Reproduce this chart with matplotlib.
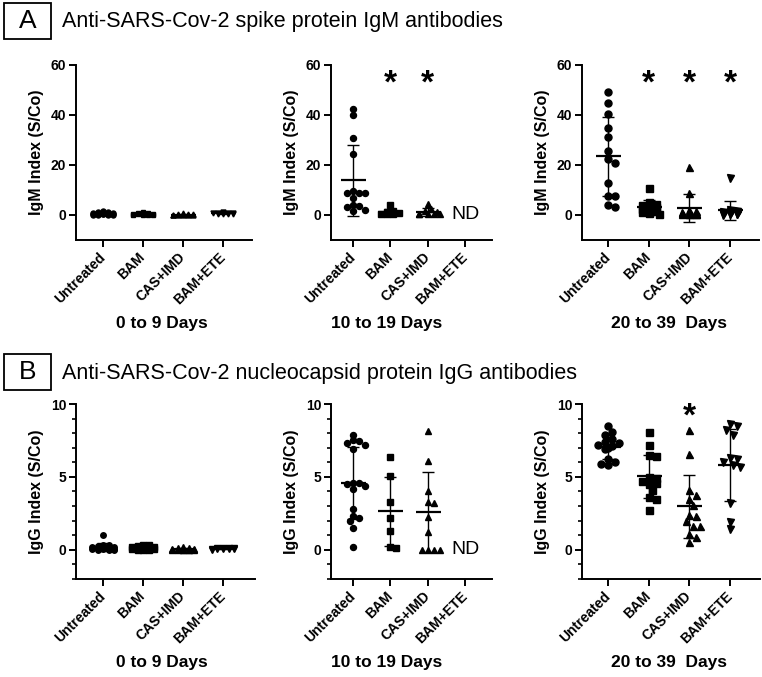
import numpy as np
import matplotlib
matplotlib.use('Agg')
import matplotlib.pyplot as plt
from matplotlib.patches import Rectangle
from matplotlib.ticker import MultipleLocator

plt.rcParams['font.family'] = ['Liberation Sans', 'DejaVu Sans']

groups = ['Untreated', 'BAM', 'CAS+IMD', 'BAM+ETE']
markers = ['o', 's', '^', 'v']

# IgM index (S/Co), spike protein, one list per group
igm_0_9 = [
    [1.5, 1.2, 1.0, 0.8, 0.7, 0.5, 0.4, 0.3, 0.3, 0.2, 0.2, 0.1, 0.1, 0.05, 0.0],
    [1.0, 0.8, 0.6, 0.5, 0.4, 0.3, 0.2, 0.2, 0.1, 0.1, 0.05, 0.0],
    [0.6, 0.4, 0.3, 0.2, 0.1, 0.1, 0.05, 0.0, 0.0, 0.0],
    [1.0, 0.9, 0.8, 0.7, 0.6, 0.5, 0.5, 0.4, 0.3],
]
igm_10_19 = [
    [42.3, 40.0, 30.7, 24.3, 9.5, 8.7, 8.7, 8.7, 6.7, 4.0, 3.7, 3.3, 2.0, 1.5],
    [3.8, 1.6, 1.0, 0.6, 0.4, 0.3, 0.2],
    [4.5, 2.5, 1.5, 1.0, 0.5, 0.3, 0.3, 0.2, 0.2],
    [],
]
igm_20_39 = [
    [49.1, 44.9, 40.4, 34.7, 31.3, 25.7, 22.3, 20.7, 12.9, 7.6, 7.5, 4.0, 3.3],
    [10.7, 5.0, 4.5, 4.0, 3.5, 3.0, 2.5, 2.0, 1.5, 1.2, 1.0, 0.8, 0.5],
    [19.3, 8.7, 2.0, 1.5, 1.2, 1.0, 0.8, 0.6, 0.5, 0.4, 0.3, 0.2, 0.2],
    [14.7, 2.0, 1.5, 1.2, 1.0, 0.8, 0.6, 0.5, 0.4, 0.3, 0.2, 0.2, 0.1],
]

# IgG index (S/Co), nucleocapsid protein
igg_0_9 = [
    [1.0, 0.35, 0.3, 0.25, 0.2, 0.2, 0.15, 0.1, 0.1, 0.05, 0.05, 0.05, 0.0, 0.0, 0.0],
    [0.35, 0.3, 0.25, 0.2, 0.2, 0.15, 0.1, 0.1, 0.05, 0.05, 0.0, 0.0, 0.0],
    [0.2, 0.15, 0.1, 0.05, 0.05, 0.0, 0.0, 0.0, 0.0, 0.0, 0.0, 0.0],
    [0.15, 0.12, 0.1, 0.1, 0.08, 0.05, 0.05, 0.05, 0.03, 0.02],
]
igg_10_19 = [
    [7.9, 7.5, 7.45, 7.3, 7.2, 6.9, 4.6, 4.6, 4.5, 4.35, 4.2, 2.8, 2.35, 2.2, 2.0, 1.5, 0.2],
    [6.35, 5.05, 3.27, 2.17, 1.26, 0.2, 0.15],
    [8.15, 6.1, 4.05, 3.25, 3.2, 2.25, 1.2, 0.0, 0.0, 0.0, 0.0],
    [],
]
igg_20_39 = [
    [8.5, 8.1, 7.9, 7.6, 7.4, 7.3, 7.2, 7.1, 7.0, 6.9, 6.2, 6.0, 5.9, 5.8],
    [8.05, 7.2, 6.5, 6.4, 5.0, 4.9, 4.75, 4.7, 4.6, 4.5, 4.1, 3.6, 3.5, 2.75],
    [8.2, 6.6, 4.1, 3.75, 3.5, 3.1, 2.4, 2.3, 1.95, 1.65, 1.6, 1.1, 0.9, 0.55],
    [8.6, 8.5, 8.2, 7.9, 6.3, 6.25, 6.0, 5.85, 5.7, 3.2, 1.9, 1.4],
]

period_labels = ['0 to 9 Days', '10 to 19 Days', '20 to 39  Days']
igm_stars = [[], [1, 2], [1, 2, 3]]
igg_stars = [[], [], [2]]

W, H = 762, 677
fig = plt.figure(figsize=(W / 100, H / 100), dpi=100)


def swarm(vals, d, ppx, ppy, maxw):
    # simple beeswarm: offsets in category units
    vals = np.asarray(vals, dtype=float)
    order = np.argsort(-vals, kind='stable')
    cand = [0.0]
    for k in range(1, 30):
        cand += [k * d * 0.5, -k * d * 0.5]
    placed = []
    offs = np.zeros(len(vals))
    for i in order:
        y = vals[i] * ppy
        best, besth = 0.0, None
        for c in cand:
            if abs(c) > maxw:
                continue
            hits = sum(1 for (px, py) in placed if (px - c) ** 2 + (py - y) ** 2 < (d * 0.95) ** 2)
            if hits == 0:
                best = c
                break
            if besth is None or hits < besth:
                best, besth = c, hits
        placed.append((best, y))
        offs[i] = best / ppx
    return offs


def panel(rect_px, xlim, ylim, data, yticks, ylabel, xlabel, xlabel_px, stars, star_y,
          ms_px, minor=None):
    x0, x1, ytop, ybot = rect_px
    ax = fig.add_axes([x0 / W, 1 - ybot / H, (x1 - x0) / W, (ybot - ytop) / H])
    ax.set_xlim(*xlim)
    ax.set_ylim(*ylim)
    ppx = (x1 - x0) / (xlim[1] - xlim[0])
    ppy = (ybot - ytop) / (ylim[1] - ylim[0])
    for i, vals in enumerate(data):
        if len(vals) == 0:
            ax.text(i, 0, 'ND', ha='center', va='center', fontsize=14)
            continue
        offs = swarm(vals, ms_px, ppx, ppy, 13)
        ax.plot(i + offs, vals, ls='none', marker=markers[i], ms=ms_px * 0.72,
                color='black', mec='black', zorder=3)
        m = np.mean(vals)
        sd = np.std(vals, ddof=1)
        ax.errorbar(i, m, yerr=sd, fmt='none', ecolor='black', elinewidth=1.0,
                    capsize=4.3, capthick=1.0, zorder=4)
        ax.plot([i], [m], marker='_', ms=18, mew=1.6, color='black', zorder=4)
    for s in stars:
        ax.text(s, star_y, '*', ha='center', va='center', fontsize=24, fontweight='bold')
    for sp in ['top', 'right']:
        ax.spines[sp].set_visible(False)
    for sp in ['left', 'bottom']:
        ax.spines[sp].set_linewidth(1.4)
    ax.set_yticks(yticks)
    ax.set_yticklabels([str(t) for t in yticks], fontsize=10, fontweight='bold')
    ax.set_xticks(range(len(groups)))
    ax.set_xticklabels(groups, rotation=45, ha='right', va='center', rotation_mode='anchor',
                       fontsize=10, fontweight='bold')
    ax.tick_params(axis='both', which='major', length=5, width=1.4, pad=2)
    ax.tick_params(axis='x', pad=6)
    if minor:
        ax.yaxis.set_minor_locator(MultipleLocator(minor))
        ax.tick_params(axis='y', which='minor', length=3, width=1.2)
    ax.set_ylabel(ylabel, fontsize=11.5, fontweight='bold', labelpad=5)
    fig.text(xlabel_px[0] / W, 1 - xlabel_px[1] / H, xlabel, ha='center', va='center',
             fontsize=12.5, fontweight='bold')
    return ax


top_rects = [(76, 252, 65, 240), (331, 492, 65, 240), (582, 759, 65, 240)]
bot_rects = [(76, 255, 404, 579), (331, 492, 404, 579), (582, 760, 404, 579)]
top_xlims = [(-0.675, 3.725), (-0.59, 3.72), (-0.64, 3.71)]
bot_xlims = [(-0.675, 3.8), (-0.59, 3.72), (-0.64, 3.74)]
xlabel_x = [162, 387, 669]
ms_top = [5.0, 6.0, 7.0]
ms_bot = [5.5, 6.0, 7.0]

igm_sets = [igm_0_9, igm_10_19, igm_20_39]
igg_sets = [igg_0_9, igg_10_19, igg_20_39]

for k in range(3):
    panel(top_rects[k], top_xlims[k], (-10, 60), igm_sets[k], [0, 20, 40, 60],
          'IgM Index (S/Co)', period_labels[k], (xlabel_x[k], 323), igm_stars[k], 52.5,
          ms_top[k])
    panel(bot_rects[k], bot_xlims[k], (-2, 10), igg_sets[k], [0, 5, 10],
          'IgG Index (S/Co)', period_labels[k], (xlabel_x[k], 663), igg_stars[k], 9.1,
          ms_bot[k], minor=1)

# panel headers
for letter, title, ytop in [('A', 'Anti-SARS-Cov-2 spike protein IgM antibodies', 3),
                            ('B', 'Anti-SARS-Cov-2 nucleocapsid protein IgG antibodies', 354)]:
    fig.patches.append(Rectangle((4 / W, 1 - (ytop + 36) / H), 47 / W, 36 / H,
                                 transform=fig.transFigure, fill=False, lw=1.3,
                                 edgecolor='black'))
    fig.text(27.5 / W, 1 - (ytop + 18) / H, letter, ha='center', va='center', fontsize=19)
    fig.text(62 / W, 1 - (ytop + 19) / H, title, ha='left', va='center', fontsize=15.5)

fig.savefig('out.png', dpi=100)
